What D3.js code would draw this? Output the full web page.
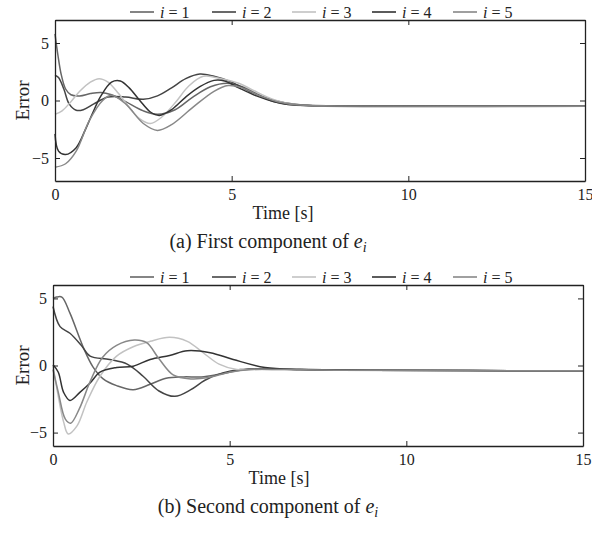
<!DOCTYPE html>
<html>
<head>
<meta charset="utf-8">
<script src="https://cdn.jsdelivr.net/npm/d3@7"></script>
<style>
  body { margin: 0; background: #fff; }
  svg text { font-family: "Liberation Serif", "DejaVu Serif", serif; fill: #222; }
</style>
</head>
<body>
<div id="chart"></div>
<script>
// tick labels and series names
var xTicks = [0, 5, 10, 15]
var yTicks = [-5, 0, 5]
var seriesNames = ["1", "2", "3", "4", "5"]
var seriesColors = ["#666666", "#444444", "#c2c2c2", "#333333", "#888888"]

// (a) first component of e_i  -- [time, error]
var a1 = [[0,5.8],[0.08,4.0],[0.18,2.2],[0.3,1.0],[0.45,0.5],[0.7,0.4],[1.0,0.6],[1.3,0.7],[1.6,0.5],[2.0,-0.1],[2.5,-0.9],[2.9,-1.2],[3.4,-0.8],[3.9,0.3],[4.4,1.2],[4.9,1.5],[5.3,1.2],[5.7,0.6],[6.1,0.0],[6.6,-0.35],[7.3,-0.45],[9,-0.48],[15,-0.5]]
var a2 = [[0,2.2],[0.1,2.0],[0.25,1.0],[0.4,-0.3],[0.6,-0.85],[0.8,-0.8],[1.1,-0.3],[1.5,0.3],[2.0,0.3],[2.5,0.1],[2.9,0.4],[3.3,1.1],[3.7,1.9],[4.1,2.3],[4.5,2.1],[5.0,1.6],[5.5,0.8],[6.0,0.2],[6.5,-0.2],[7.0,-0.4],[8,-0.47],[15,-0.5]]
var a3 = [[0,-1.2],[0.2,-0.9],[0.45,-0.1],[0.7,0.8],[1.0,1.6],[1.25,1.9],[1.5,1.6],[1.8,0.6],[2.1,-0.6],[2.4,-1.6],[2.7,-2.0],[3.0,-1.5],[3.4,-0.2],[3.8,1.3],[4.2,2.1],[4.7,1.9],[5.2,1.5],[5.6,0.9],[6.0,0.3],[6.5,-0.2],[7.2,-0.45],[15,-0.5]]
var a4 = [[0,-2.9],[0.1,-4.4],[0.3,-4.7],[0.6,-4.1],[0.85,-2.6],[1.05,-1.2],[1.3,0.4],[1.6,1.6],[1.85,1.7],[2.1,1.1],[2.4,0.0],[2.7,-1.0],[2.95,-1.3],[3.3,-0.8],[3.7,0.3],[4.1,1.2],[4.5,1.75],[4.8,1.7],[5.2,1.1],[5.7,0.4],[6.2,-0.1],[6.8,-0.4],[8,-0.47],[15,-0.5]]
var a5 = [[0,-5.8],[0.3,-5.5],[0.6,-4.4],[0.97,-1.75],[1.35,0.0],[1.6,0.45],[2.0,-0.3],[2.5,-2.0],[2.9,-2.6],[3.3,-2.1],[3.9,-0.6],[4.5,0.8],[4.9,1.3],[5.3,1.1],[5.8,0.4],[6.3,-0.1],[6.9,-0.4],[8,-0.47],[15,-0.5]]

// (b) second component of e_i
var b1 = [[0,5.0],[0.1,5.1],[0.25,5.1],[0.48,3.9],[0.85,1.4],[1.13,-0.1],[1.42,-1.0],[1.8,-1.5],[2.27,-1.8],[2.75,-1.4],[3.2,-0.95],[3.7,-0.85],[4.2,-0.85],[4.7,-0.65],[5.2,-0.4],[5.7,-0.25],[6.3,-0.25],[7,-0.3],[9,-0.35],[15,-0.4]]
var b2 = [[0,4.4],[0.2,2.9],[0.48,2.4],[0.8,1.5],[1.05,0.7],[1.6,0.45],[2.1,0.1],[2.55,-0.8],[3.0,-1.9],[3.45,-2.3],[3.9,-1.8],[4.3,-1.1],[4.8,-0.55],[5.3,-0.3],[6.0,-0.25],[7,-0.3],[9,-0.35],[15,-0.4]]
var b3 = [[0,0],[0.15,-2.3],[0.3,-4.2],[0.43,-5.1],[0.68,-4.5],[0.96,-2.7],[1.33,-0.8],[1.8,0.7],[2.27,1.4],[2.75,1.8],[3.3,2.1],[3.8,1.8],[4.25,0.95],[4.7,0.1],[5.2,-0.3],[5.7,-0.3],[6.5,-0.3],[8,-0.35],[15,-0.4]]
var b4 = [[0,0.05],[0.15,-0.5],[0.3,-2.0],[0.48,-2.6],[0.76,-2.0],[1.05,-1.3],[1.33,-0.5],[1.8,-0.15],[2.27,-0.05],[2.75,0.45],[3.3,0.75],[3.8,1.1],[4.45,0.95],[5.1,0.45],[6.0,-0.15],[7,-0.3],[9,-0.35],[15,-0.4]]
var b5 = [[0,-0.3],[0.15,-2.0],[0.35,-4.0],[0.5,-4.3],[0.75,-3.2],[1.05,-1.2],[1.4,0.6],[1.8,1.5],[2.3,1.9],[2.65,1.7],[3.0,0.5],[3.4,-0.7],[3.9,-1.0],[4.4,-0.9],[5.0,-0.5],[5.6,-0.3],[6.5,-0.3],[8,-0.35],[15,-0.4]]

var svg = d3.select("#chart").append("svg")
    .attr("width", 592)
    .attr("height", 539)

svg.append("rect").attr("width", 592).attr("height", 539).attr("fill", "#fff")

function drawPanel(opt) {
    var x = d3.scaleLinear().domain([0, 15]).range([opt.left, opt.right])
    var y = d3.scaleLinear().domain(opt.yDomain).range([opt.bottom, opt.top])

    var g = svg.append("g")

    // curves
    var line = d3.line()
        .x(function(d) { return x(d[0]) })
        .y(function(d) { return y(d[1]) })
        .curve(d3.curveCatmullRom.alpha(0.5))

    opt.series.forEach(function(s, i) {
        g.append("path")
            .datum(s)
            .attr("fill", "none")
            .attr("stroke", seriesColors[i])
            .attr("stroke-width", 1.5)
            .attr("d", line)
    })

    // frame with inward ticks on all sides
    var bottom = g.append("g")
        .attr("transform", "translate(0," + opt.bottom + ")")
        .call(d3.axisBottom(x).tickValues(xTicks).tickSizeInner(-5).tickSizeOuter(0).tickPadding(8))
    var top = g.append("g")
        .attr("transform", "translate(0," + opt.top + ")")
        .call(d3.axisTop(x).tickValues(xTicks).tickSizeInner(-5).tickSizeOuter(0).tickFormat(""))
    var left = g.append("g")
        .attr("transform", "translate(" + opt.left + ",0)")
        .call(d3.axisLeft(y).tickValues(yTicks).tickSizeInner(-5).tickSizeOuter(0).tickPadding(6))
    var right = g.append("g")
        .attr("transform", "translate(" + opt.right + ",0)")
        .call(d3.axisRight(y).tickValues(yTicks).tickSizeInner(-5).tickSizeOuter(0).tickFormat(""))

    ;[bottom, top, left, right].forEach(function(a) {
        a.select(".domain").attr("stroke", "#222").attr("stroke-width", 1.3)
        a.selectAll(".tick line").attr("stroke", "#222").attr("stroke-width", 1)
        a.selectAll(".tick text")
            .attr("font-family", "Liberation Serif")
            .attr("font-size", 16)
            .attr("fill", "#222")
    })

    // axis titles
    svg.append("text")
        .attr("x", opt.timeX)
        .attr("y", opt.bottom + 38)
        .attr("text-anchor", "middle")
        .attr("font-size", 18)
        .text("Time [s]")

    svg.append("text")
        .attr("transform", "translate(22," + (opt.top + opt.bottom) / 2 + ") rotate(-90)")
        .attr("text-anchor", "middle")
        .attr("dominant-baseline", "central")
        .attr("font-size", 19)
        .text("Error")

    // caption
    var cap = svg.append("text")
        .attr("x", 268)
        .attr("y", opt.bottom + 67)
        .attr("text-anchor", "middle")
        .attr("font-size", 20)
    cap.append("tspan").text(opt.caption + " component of ")
    cap.append("tspan").attr("font-style", "italic").text("e")
    cap.append("tspan").attr("font-style", "italic").attr("font-size", 14).attr("dy", 4).text("i")

    // legend above the frame
    var legendX = [130, 212, 292, 372, 453]
    seriesNames.forEach(function(n, i) {
        var lg = svg.append("g").attr("transform", "translate(" + legendX[i] + "," + opt.legendY + ")")
        lg.append("line")
            .attr("x1", 0).attr("x2", 24)
            .attr("stroke", seriesColors[i])
            .attr("stroke-width", 1.6)
        var t = lg.append("text")
            .attr("x", 30)
            .attr("dy", "0.35em")
            .attr("font-size", 16)
        t.append("tspan").attr("font-style", "italic").text("i")
        t.append("tspan").text(" = " + n)
    })
}

drawPanel({
    left: 55, right: 585, top: 20, bottom: 181,
    yDomain: [-7, 7],
    series: [a1, a2, a3, a4, a5],
    caption: "(a) First",
    timeX: 283,
    legendY: 12
})

drawPanel({
    left: 53, right: 583, top: 285, bottom: 446,
    yDomain: [-6, 6],
    series: [b1, b2, b3, b4, b5],
    caption: "(b) Second",
    timeX: 279,
    legendY: 277
})
</script>
</body>
</html>
